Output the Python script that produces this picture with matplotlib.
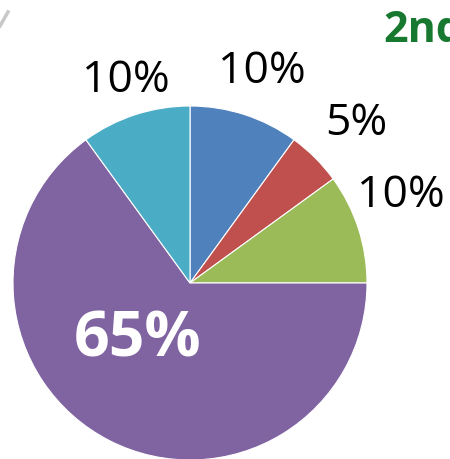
import numpy as np
import matplotlib
matplotlib.use("Agg")
import matplotlib.pyplot as plt

shares = [10, 5, 10, 65, 10]
labels = ["10%", "5%", "10%", "65%", "10%"]
colors = ["#4F81BD", "#C0504D", "#9BBB59", "#8064A2", "#4BACC6"]
title_text = "2nd"

# label placement: (radius factor, angle offset deg)
label_dist = [1.26, 1.30, 1.29, 0.436, 1.20]
label_shift = [-0.7, -1.2, 4.5, -15.4, -0.4]

W, H = 450, 459
fig = plt.figure(figsize=(W / 100, H / 100), dpi=100)
ax = fig.add_axes([0, 0, 1, 1])

cx, cy, r = 190, H - 283, 177
wedges, _ = ax.pie(shares, colors=colors, startangle=90, counterclock=False,
                   center=(cx, cy), radius=r, frame=True,
                   wedgeprops=dict(edgecolor="white", linewidth=0.8))
ax.set_xlim(0, W)
ax.set_ylim(0, H)
ax.set_aspect("equal")
ax.axis("off")

for w, lab, d, s in zip(wedges, labels, label_dist, label_shift):
    ang = np.deg2rad((w.theta1 + w.theta2) / 2 + s)
    x = cx + d * r * np.cos(ang)
    y = cy + d * r * np.sin(ang)
    if lab == "65%":
        ax.text(x, y, lab, ha="center", va="center", color="white",
                fontsize=45, fontweight="bold", family="Open Sans")
    else:
        ax.text(x, y, lab, ha="center", va="center", color="black",
                fontsize=32, family="Open Sans")

ax.text(383, H - 42, title_text, ha="left", va="baseline", color="#17792F",
        fontsize=31, fontweight="bold", family="Open Sans", clip_on=False)
ax.plot([0, 8], [H - 26, H - 12], color="#C8C8C8", lw=2.5)

fig.savefig("out.png", dpi=100)
